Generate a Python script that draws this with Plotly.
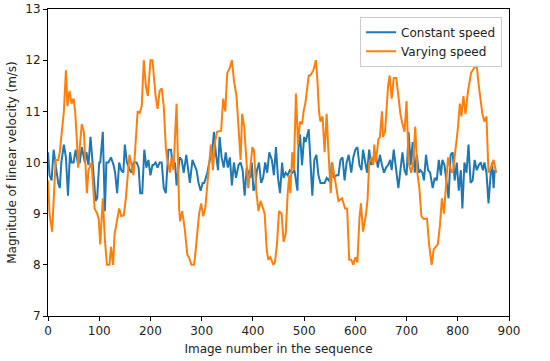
import plotly.graph_objects as go

# Constant speed series (image number, velocity m/s)
const_x = [0, 3, 7, 11, 15, 20, 23, 26, 31, 35, 39, 43, 46, 50, 54, 58, 62, 66, 70, 72,
           75, 79, 83, 87, 93, 96, 100, 102, 107, 111, 114, 118, 123, 128, 131, 135, 139, 143, 147, 150,
           154, 160, 163, 167, 173, 177, 180, 184, 188, 192, 196, 200, 204, 206, 210, 214, 218, 222, 226, 230,
           235, 240, 244, 248, 251, 257, 261, 265, 270, 277, 282, 286, 290, 294, 298, 302, 305, 311, 316, 320,
           324, 328, 332, 335, 339, 343, 347, 351, 355, 359, 363, 367, 372, 376, 380, 384, 388, 391, 395, 398,
           401, 404, 408, 412, 416, 420, 424, 428, 432, 437, 441, 445, 449, 453, 457, 460, 464, 468, 472, 477,
           481, 487, 489, 492, 496, 500, 503, 509, 513, 516, 520, 524, 528, 532, 536, 540, 544, 548, 552, 554,
           558, 563, 567, 571, 575, 579, 583, 587, 592, 596, 600, 604, 608, 612, 615, 619, 623, 627, 631, 635,
           640, 644, 648, 652, 656, 660, 664, 668, 671, 675, 679, 684, 688, 692, 696, 700, 704, 708, 712, 716,
           720, 724, 727, 731, 734, 738, 742, 746, 751, 755, 759, 763, 767, 770, 774, 778, 782, 786, 790, 794,
           798, 802, 806, 809, 813, 817, 821, 825, 829, 833, 837, 841, 845, 849, 852, 856, 860, 864, 867, 870,
           872, 875]
const_v = [10.2, 9.75, 9.65, 10.25, 9.95, 9.6, 9.5, 10.0, 10.35, 10.1, 9.35, 10.2, 10.0, 10.0, 10.25, 10.0, 10.0, 10.3, 10.1, 10.0,
           10.2, 9.95, 10.5, 9.95, 9.25, 9.3, 10.0, 10.0, 10.6, 9.05, 10.0, 10.0, 10.1, 9.95, 9.8, 9.4, 10.0, 9.85, 9.8, 10.35,
           10.0, 9.85, 9.8, 10.0, 10.0, 9.9, 9.4, 9.4, 10.25, 9.9, 10.05, 9.75, 9.95, 9.95, 10.0, 9.9, 10.0, 10.0, 9.5, 9.4,
           10.25, 10.25, 9.9, 10.0, 9.55, 10.1, 10.05, 9.8, 10.15, 9.6, 10.05, 9.95, 9.85, 9.6, 9.45, 9.6, 9.6, 9.8, 10.05, 10.15,
           10.6, 10.15, 9.85, 10.5, 10.1, 9.9, 10.2, 9.9, 10.1, 9.55, 10.0, 9.7, 9.95, 10.0, 9.85, 9.35, 9.9, 9.8, 9.7, 10.0,
           9.45, 9.5, 9.85, 10.0, 9.6, 9.7, 10.0, 9.8, 10.2, 10.05, 9.75, 10.3, 9.7, 9.4, 10.0, 9.7, 9.8, 9.75, 9.85, 9.8,
           9.85, 9.45, 10.3, 10.55, 9.95, 10.5, 10.4, 10.65, 10.0, 9.35, 10.05, 10.15, 9.75, 9.6, 9.6, 9.6, 9.7, 9.65, 9.75, 10.0,
           9.7, 9.75, 9.75, 10.05, 10.1, 9.65, 10.0, 10.15, 9.8, 10.1, 10.25, 10.3, 9.95, 9.85, 10.25, 10.0, 9.8, 10.25, 9.95, 10.1,
           10.15, 9.9, 10.15, 9.95, 9.8, 9.9, 9.95, 10.05, 9.85, 10.25, 9.95, 9.5, 9.85, 10.2, 9.85, 9.75, 10.6, 9.95, 10.4, 9.8,
           10.15, 9.8, 9.85, 9.8, 9.65, 10.15, 9.85, 9.8, 9.5, 9.7, 9.65, 10.05, 9.75, 10.05, 9.95, 9.6, 9.3, 10.15, 10.2, 9.65,
           10.0, 9.45, 9.85, 9.1, 10.0, 9.8, 10.35, 9.6, 9.65, 10.05, 9.85, 9.95, 10.0, 9.85, 10.0, 9.8, 9.2, 9.75, 10.0, 9.5,
           9.85, 9.8]

# Varying speed series
vary_x = [0, 3, 8, 15, 20, 23, 27, 31, 35, 38, 42, 46, 50, 53, 56, 59, 62, 66, 70, 76,
          79, 85, 91, 96, 99, 102, 107, 111, 115, 120, 123, 127, 130, 135, 139, 143, 148, 152, 156, 159,
          167, 171, 175, 179, 183, 187, 191, 195, 200, 204, 206, 210, 214, 218, 222, 226, 230, 232, 238, 241,
          245, 251, 256, 258, 262, 267, 272, 275, 280, 285, 287, 291, 295, 299, 303, 307, 311, 316, 318, 322,
          326, 330, 338, 342, 346, 350, 355, 359, 363, 368, 372, 376, 379, 383, 391, 396, 399, 402, 407, 411,
          415, 420, 423, 427, 430, 434, 440, 443, 447, 451, 456, 460, 464, 468, 471, 473, 477, 480, 484, 486,
          488, 492, 496, 499, 503, 509, 512, 518, 523, 526, 529, 532, 536, 540, 544, 547, 552, 555, 559, 567,
          574, 580, 584, 588, 592, 596, 600, 604, 608, 611, 615, 621, 624, 627, 632, 635, 637, 640, 645, 648,
          652, 654, 658, 664, 667, 671, 675, 680, 684, 688, 692, 696, 700, 704, 709, 713, 717, 721, 725, 729,
          733, 740, 744, 749, 753, 757, 761, 765, 769, 773, 777, 781, 785, 789, 791, 796, 800, 804, 807, 811,
          815, 820, 826, 832, 837, 841, 845, 848, 852, 856, 860, 865, 870, 875]
vary_v = [9.65, 9.0, 8.65, 10.05, 10.05, 10.2, 10.6, 11.0, 11.8, 11.1, 11.4, 11.15, 11.25, 11.0, 10.5, 9.9, 10.3, 10.75, 10.6, 9.4,
          9.85, 10.0, 9.1, 9.0, 8.9, 8.4, 9.3, 8.5, 8.0, 8.0, 8.35, 8.0, 8.6, 8.9, 9.1, 8.95, 8.97, 9.3, 9.8, 10.15,
          9.75, 10.4, 11.0, 10.97, 11.1, 12.0, 11.5, 11.3, 12.0, 12.0, 11.8, 11.3, 11.05, 11.4, 11.45, 11.1, 10.3, 10.1, 9.8, 10.1,
          9.85, 11.15, 9.1, 8.85, 9.05, 8.7, 8.2, 8.15, 8.0, 8.0, 8.15, 8.6, 9.0, 9.2, 8.95, 9.1, 9.6, 10.15, 10.35, 9.85,
          10.4, 10.6, 10.62, 11.25, 11.0, 11.75, 11.85, 12.0, 11.6, 11.3, 10.7, 10.05, 10.95, 10.7, 9.5, 10.0, 10.3, 10.25, 9.4, 9.05,
          9.25, 9.1, 9.0, 8.3, 8.1, 8.15, 8.0, 8.05, 8.4, 9.05, 9.0, 8.45, 8.6, 9.4, 9.75, 9.4, 10.2, 9.85, 11.35, 10.9,
          10.35, 10.8, 10.75, 11.0, 11.2, 11.7, 11.7, 11.8, 12.0, 11.6, 11.0, 10.8, 10.9, 10.2, 10.95, 10.3, 9.4, 10.0, 9.75, 9.25,
          9.3, 9.1, 9.1, 8.1, 8.1, 8.0, 8.15, 8.05, 8.9, 9.2, 8.65, 9.0, 9.3, 10.0, 10.1, 9.95, 10.35, 10.0, 10.45, 10.5,
          11.0, 10.5, 10.6, 11.5, 11.7, 11.25, 11.65, 11.65, 11.3, 10.95, 10.75, 10.6, 11.2, 10.0, 9.8, 10.0, 10.7, 9.8, 9.5, 8.95,
          8.9, 8.9, 8.4, 8.0, 8.3, 8.35, 8.4, 8.75, 9.3, 9.0, 9.55, 10.1, 9.9, 9.8, 9.85, 10.3, 10.65, 11.15, 10.9, 11.3,
          10.95, 11.4, 11.75, 11.85, 11.9, 11.5, 11.15, 10.95, 10.8, 10.9, 9.8, 9.9, 10.05, 9.8]

x_ticks = [0, 100, 200, 300, 400, 500, 600, 700, 800, 900]
y_ticks = [7, 8, 9, 10, 11, 12, 13]

fig = go.Figure()
fig.add_trace(go.Scatter(x=const_x, y=const_v, mode="lines", name="Constant speed",
                         line=dict(color="#1f77b4", width=2)))
fig.add_trace(go.Scatter(x=vary_x, y=vary_v, mode="lines", name="Varying speed",
                         line=dict(color="#ff7f0e", width=2)))

axis_common = dict(showline=True, linecolor="black", linewidth=1, mirror=True,
                   ticks="outside", ticklen=4, tickcolor="black", showgrid=False,
                   zeroline=False, automargin=False, tickfont=dict(size=12, color="#222"))
fig.update_xaxes(range=[0, 900], tickvals=x_ticks, **axis_common,
                 title=dict(text="Image number in the sequence", font=dict(size=12, color="#222"), standoff=7))
fig.update_yaxes(range=[7, 13], tickvals=y_ticks, **axis_common,
                 title=dict(text="Magnitude of linear velocity (m/s)", font=dict(size=12, color="#222"), standoff=6))

fig.update_layout(
    width=550, height=361,
    margin=dict(l=48, r=41, t=9, b=45),
    paper_bgcolor="white", plot_bgcolor="white",
    font=dict(family="DejaVu Sans", size=12, color="#222"),
    showlegend=True,
    legend=dict(x=0.985, y=0.975, xanchor="right", yanchor="top",
                bordercolor="#cccccc", borderwidth=1, bgcolor="rgba(255,255,255,0.8)",
                font=dict(size=12), tracegroupgap=0),
)

fig.write_html("out.html", config={"displayModeBar": False},
               post_script="document.body.style.margin='0';")
